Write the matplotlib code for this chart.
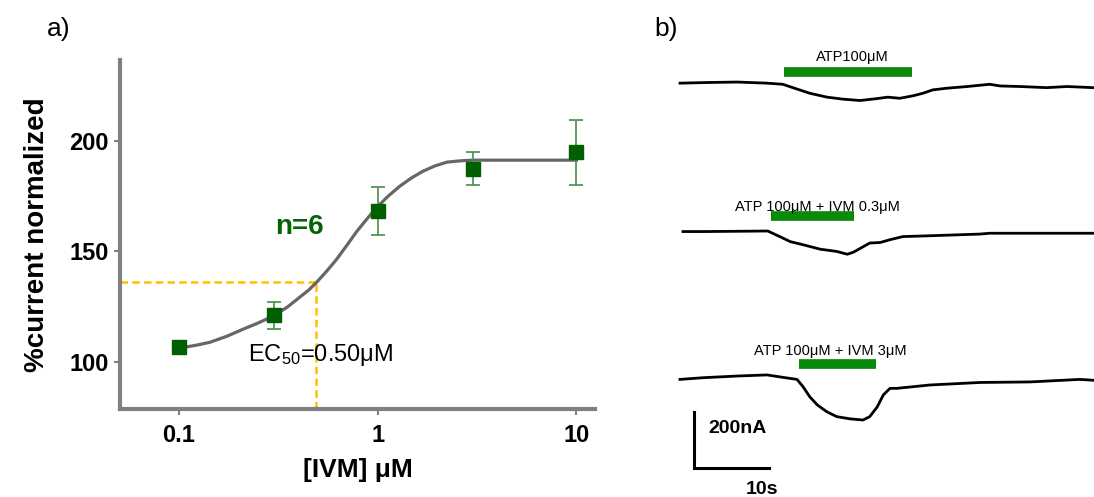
import matplotlib
matplotlib.use('Agg')
import matplotlib.pyplot as plt
from matplotlib import font_manager
from matplotlib.ticker import NullLocator

# ---- panel a: dose-response ----
ivm_conc = [0.1, 0.3, 1, 3, 10]
current_mean = [106.9, 121.1, 168.3, 187.4, 194.7]
current_err = [0, 6.3, 10.8, 7.4, 14.5]

# fitted curve
fit_conc = [0.1, 0.107, 0.124, 0.143, 0.174, 0.210, 0.25, 0.297, 0.35, 0.406, 0.45, 0.494,
            0.555, 0.623, 0.70, 0.786, 0.885, 0.99, 1.13, 1.29, 1.48, 1.69, 1.94, 2.23,
            2.6, 3.01, 10.0]
fit_resp = [106.5, 106.8, 107.8, 109.0, 111.7, 114.9, 117.7, 120.8, 124.8, 129.4, 132.6, 136.2,
            141.2, 146.6, 152.8, 159.1, 164.8, 169.9, 175.0, 179.4, 183.2, 186.2, 188.6, 190.3,
            190.9, 191.2, 191.2]

ec50 = 0.49
ec50_resp = 136.2

# ---- panel b: current traces (time in s, current in nA relative to baseline) ----
t1 = [0, 3.07, 7.6, 11.6, 13.7, 15.6, 17.3, 19.6, 21.7, 24.0, 26.3, 27.7, 29.3, 31.1,
      32.4, 33.7, 35.6, 38.3, 41.3, 42.7, 45.3, 48.9, 51.6, 55.1]
i1 = [0, 2, 4, 0, -4, -21, -36, -50, -57, -62, -55, -50, -54, -45,
      -36, -24, -18, -12, -4, -10, -12, -16, -12, -16]

t2 = [0.4, 3.07, 7.6, 11.7, 13.3, 14.7, 16.4, 18.7, 20.9, 22.3, 23.1, 25.3, 26.7, 28.0,
      29.7, 33.3, 40.0, 41.3, 46.7, 55.1]
i2 = [0, 0, 1, 2, -18, -36, -47, -63, -71, -81, -74, -41, -39, -29,
      -18, -15, -9, -6, -6, -6]

t3 = [0, 3.07, 7.6, 11.6, 13.3, 15.6, 16.4, 17.3, 18.3, 19.6, 20.9, 22.7, 24.4, 25.3,
      26.3, 27.1, 28.0, 28.9, 33.3, 40.0, 46.7, 53.3, 55.1]
i3 = [0, 6, 12, 16, 9, 0, -26, -62, -91, -116, -133, -141, -145, -133,
      -98, -56, -32, -32, -20, -11, -9, 0, -3]

drug_labels = ['ATP100μM', 'ATP 100μM + IVM 0.3μM', 'ATP 100μM + IVM 3μM']
drug_on = [13.9, 12.1, 15.9]
drug_off = [30.9, 23.2, 26.1]

plt.rcParams['font.family'] = ['Liberation Sans', 'DejaVu Sans']
plt.rcParams['mathtext.fontset'] = 'custom'
plt.rcParams['mathtext.rm'] = 'Liberation Sans'
plt.rcParams['mathtext.default'] = 'regular'

names = {f.name for f in font_manager.fontManager.ttflist}
if 'Liberation Sans Narrow' in names:
    label_font, label_size = 'Liberation Sans Narrow', 12
else:
    label_font, label_size = 'Liberation Sans', 10.5

fig = plt.figure(figsize=(10.94, 4.97), dpi=100)

# panel a
ax = fig.add_axes([120 / 1094, 1 - 409 / 497, 475 / 1094, 349 / 497])
ax.set_xscale('log')
ax.set_xlim(0.0505, 12.4)
ax.set_ylim(78.9, 236.4)

ax.plot(fit_conc, fit_resp, color='#666666', lw=2.3, zorder=2, solid_joinstyle='round')
ax.errorbar(ivm_conc, current_mean, yerr=current_err, fmt='s', color='#005f00',
            ms=9.5, ecolor='#4a8c4a', elinewidth=1.2, capsize=4.7, capthick=1.2, zorder=3)

xmin, _ = ax.get_xlim()
ymin, _ = ax.get_ylim()
ax.plot([xmin, ec50], [ec50_resp, ec50_resp], color='#FFC000', lw=1.8, dashes=(3, 1.7), zorder=1)
ax.plot([ec50, ec50], [ymin, ec50_resp], color='#FFC000', lw=1.8, dashes=(3, 1.7), zorder=1)

ax.text(0.406, 160.9, 'n=6', color='#006400', fontsize=20, fontweight='bold',
        ha='center', va='center')
ax.text(0.222, 100.4, 'EC$_{50}$=0.50μM', fontsize=17, ha='left', va='baseline')

for s in ['top', 'right']:
    ax.spines[s].set_visible(False)
for s in ['left', 'bottom']:
    ax.spines[s].set_color('#808080')
    ax.spines[s].set_linewidth(3)

ax.set_xticks([0.1, 1, 10])
ax.set_xticklabels(['0.1', '1', '10'], fontweight='bold')
ax.xaxis.set_minor_locator(NullLocator())
ax.set_yticks([100, 150, 200])
ax.set_yticklabels(['100', '150', '200'], fontweight='bold')
ax.tick_params(axis='both', color='#808080', width=1.5, length=4, labelsize=17)
ax.tick_params(axis='x', pad=7)
ax.tick_params(axis='y', pad=4)

ax.set_xlabel('[IVM] μM', fontsize=19, fontweight='bold', labelpad=8)
ax.set_ylabel('%current normalized', fontsize=20, fontweight='bold', labelpad=14)

fig.text(47 / 1094, 1 - 29 / 497, 'a)', fontsize=19, va='center', ha='left')
fig.text(654 / 1094, 1 - 29 / 497, 'b)', fontsize=19, va='center', ha='left')

# panel b
bx = fig.add_axes([670 / 1094, 0, 424 / 1094, 457 / 497])
bx.set_xlim(-10 / 7.5, 414 / 7.5)
bx.set_ylim(0, 457 / 0.28)
bx.axis('off')

traces = [(t1, i1), (t2, i2), (t3, i3)]
offsets = [1478, 948, 420]
bar_lift = [39, 54, 56]
label_lift = [93, 88, 101]
label_x = [23.0, 18.3, 20.1]

for k, (t, cur) in enumerate(traces):
    base = offsets[k]
    bx.plot(t, [c + base for c in cur], color='black', lw=2, solid_joinstyle='round')
    bx.plot([drug_on[k], drug_off[k]], [base + bar_lift[k]] * 2, color='#0a8a0a', lw=7,
            solid_capstyle='butt')
    bx.text(label_x[k], base + label_lift[k], drug_labels[k], family=label_font,
            fontsize=label_size, ha='center', va='center')

# scale bar: 10 s, 200 nA
sb_t, sb_i = 1.87, 103.6
bx.plot([sb_t, sb_t, sb_t + 10], [sb_i + 200, sb_i, sb_i], color='black', lw=2.2,
        solid_joinstyle='miter')
bx.text(3.73, 246, '200nA', fontsize=14, fontweight='bold', ha='left', va='center')
bx.text(10.9, 28, '10s', fontsize=14, fontweight='bold', ha='center', va='center')

fig.savefig('out.png', dpi=100)
